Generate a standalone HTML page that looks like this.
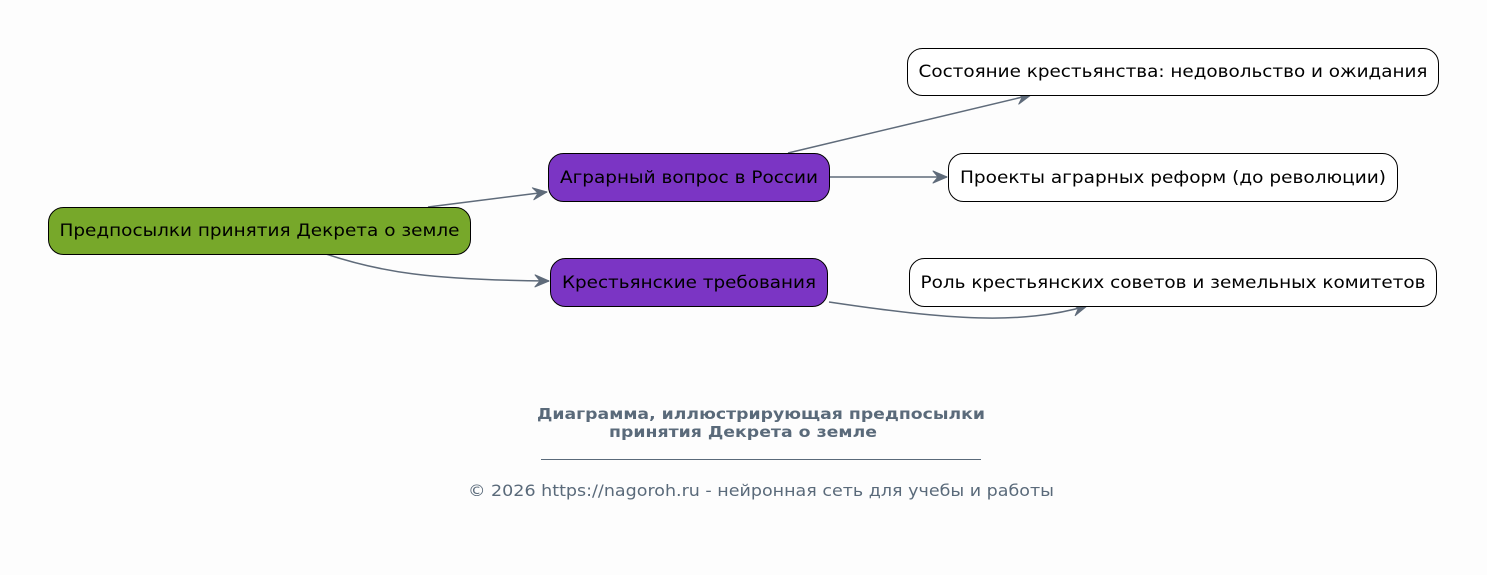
<!DOCTYPE html>
<html><head><meta charset="utf-8"><style>
html,body{margin:0;padding:0;background:#fdfdfd;}
svg{display:block;font-family:"DejaVu Sans","Liberation Sans",sans-serif;}
</style></head><body>
<svg width="1487" height="575" viewBox="0 0 1487 575" xmlns="http://www.w3.org/2000/svg">
<defs>
<marker id="a" viewBox="0 0 16 14" refX="15" refY="7" markerWidth="16" markerHeight="14" markerUnits="userSpaceOnUse" orient="auto">
<path d="M1,1 L15,7 L1,13 L6,7 Z" fill="#5f6b7a" stroke="#5f6b7a" stroke-width="1" stroke-linejoin="round"/>
</marker>
</defs>
<rect width="1487" height="575" fill="#fdfdfd"/>
<g fill="none" stroke="#5f6b7a" stroke-width="1.5">
<path d="M428,207 L547,192" marker-end="url(#a)"/>
<path d="M326,254 C380,272 430,280 549,281" marker-end="url(#a)"/>
<path d="M788,153 L1031,95" marker-end="url(#a)"/>
<path d="M829,177 L947,177" marker-end="url(#a)"/>
<path d="M829,302 C950,320 1020,325 1087,306" marker-end="url(#a)"/>
</g>
<g stroke="#000" stroke-width="1">
<rect x="48.5" y="207.5" width="422" height="47" rx="15" fill="#77a82a"/>
<rect x="548.5" y="153.5" width="281" height="48" rx="15" fill="#7b35c4"/>
<rect x="550.5" y="258.5" width="277" height="48" rx="15" fill="#7b35c4"/>
<rect x="907.5" y="48.5" width="531" height="47" rx="15" fill="#fff"/>
<rect x="948.5" y="153.5" width="449" height="48" rx="15" fill="#fff"/>
<rect x="909.5" y="258.5" width="527" height="48" rx="15" fill="#fff"/>
</g>
<g font-size="17" fill="#000" text-anchor="middle">
<text x="259.5" y="236" textLength="400" lengthAdjust="spacingAndGlyphs">Предпосылки принятия Декрета о земле</text>
<text x="689" y="183" textLength="258" lengthAdjust="spacingAndGlyphs">Аграрный вопрос в России</text>
<text x="689" y="288" textLength="254" lengthAdjust="spacingAndGlyphs">Крестьянские требования</text>
<text x="1173" y="77" textLength="509" lengthAdjust="spacingAndGlyphs">Состояние крестьянства: недовольство и ожидания</text>
<text x="1173" y="183" textLength="426" lengthAdjust="spacingAndGlyphs">Проекты аграрных реформ (до революции)</text>
<text x="1173" y="288" textLength="505" lengthAdjust="spacingAndGlyphs">Роль крестьянских советов и земельных комитетов</text>
</g>
<g fill="#5a6a7a" text-anchor="middle">
<text x="761" y="419" font-size="15" font-weight="bold" textLength="448" lengthAdjust="spacingAndGlyphs">Диаграмма, иллюстрирующая предпосылки</text>
<text x="743" y="437" font-size="15" font-weight="bold" textLength="268" lengthAdjust="spacingAndGlyphs">принятия Декрета о земле</text>
<line x1="541" y1="459.5" x2="981" y2="459.5" stroke="#5a6a7a" stroke-width="1"/>
<text x="761" y="496" font-size="16" textLength="586" lengthAdjust="spacingAndGlyphs">© 2026 https://nagoroh.ru - нейронная сеть для учебы и работы</text>
</g>
</svg>
</body></html>
